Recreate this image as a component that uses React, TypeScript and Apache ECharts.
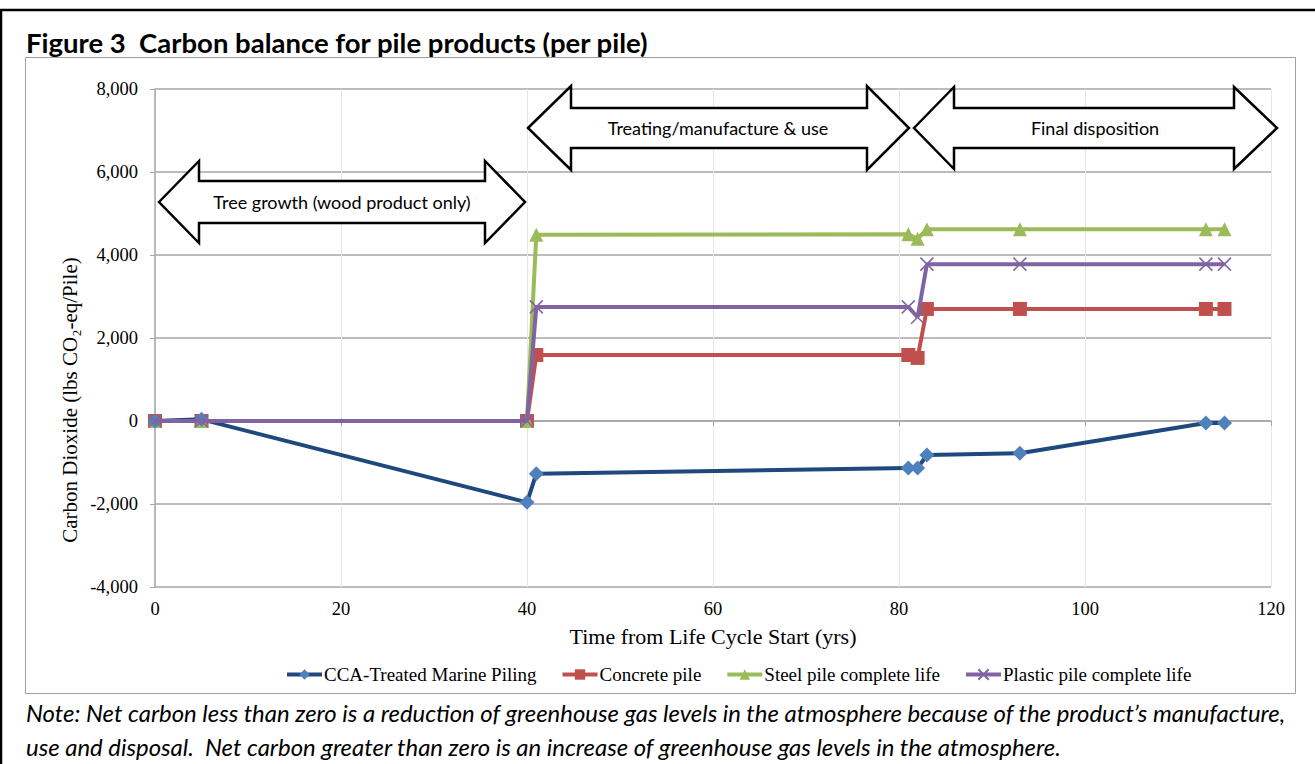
import React, { useEffect, useRef } from "react";
import * as echarts from "echarts";

const years = [0, 5, 40, 41, 81, 82, 83, 93, 113, 115];
const ccaValues = [0, 40, -1960, -1270, -1135, -1135, -820, -775, -50, -50];
const concreteValues = [0, 0, 0, 1590, 1590, 1520, 2700, 2700, 2700, 2700];
const steelValues = [0, 0, 0, 4490, 4500, 4390, 4620, 4620, 4620, 4620];
const plasticValues = [0, 0, 0, 2750, 2750, 2500, 3780, 3780, 3780, 3780];

const seriesNames = [
  "CCA-Treated Marine Piling",
  "Concrete pile",
  "Steel pile complete life",
  "Plastic pile complete life",
];
const phaseLabels = [
  "Tree growth (wood product only)",
  "Treating/manufacture & use",
  "Final disposition",
];
const titleText = "Figure 3  Carbon balance for pile products (per pile)";
const yAxisTitle = "Carbon Dioxide (lbs CO\u2082-eq/Pile)";
const xAxisTitle = "Time from Life Cycle Start (yrs)";
const noteLines = [
  "Note: Net carbon less than zero is a reduction of greenhouse gas levels in the atmosphere because of the product\u2019s manufacture,",
  "use and disposal.  Net carbon greater than zero is an increase of greenhouse gas levels in the atmosphere.",
];

const pair = (vals: number[]) => years.map((x, i) => [x, vals[i]]);

function arrowPoints(x1: number, b1: number, b2: number, x2: number, cy: number, headHalf: number, shaftHalf: number) {
  return [
    [x1, cy],
    [b1, cy - headHalf],
    [b1, cy - shaftHalf],
    [b2, cy - shaftHalf],
    [b2, cy - headHalf],
    [x2, cy],
    [b2, cy + headHalf],
    [b2, cy + shaftHalf],
    [b1, cy + shaftHalf],
    [b1, cy + headHalf],
  ];
}

export default function App() {
  const ref = useRef<HTMLDivElement>(null);
  useEffect(() => {
    if (!ref.current) return;
    const chart = echarts.init(ref.current, undefined, { renderer: "svg" });
    const serif = "'Liberation Serif', 'Times New Roman', serif";
    const sans = "Lato, 'Open Sans', sans-serif";
    const arrows = [
      { pts: arrowPoints(159, 199, 485, 525, 202, 41, 21), label: phaseLabels[0], cx: 342, cy: 202 },
      { pts: arrowPoints(528, 571, 867, 909, 128, 42, 20), label: phaseLabels[1], cx: 718, cy: 128 },
      { pts: arrowPoints(914, 954, 1234, 1277, 128, 41, 20), label: phaseLabels[2], cx: 1095, cy: 128 },
    ];
    const graphics: any[] = [
      {
        type: "rect",
        shape: { x: 1, y: 10, width: 1330, height: 800 },
        style: { fill: "none", stroke: "#000", lineWidth: 2.5 },
        silent: true,
        z: 0,
      },
      {
        type: "rect",
        shape: { x: 25.5, y: 57.5, width: 1270, height: 636 },
        style: { fill: "none", stroke: "#a0a0a0", lineWidth: 1 },
        silent: true,
        z: 0,
      },
      {
        type: "text",
        x: 26,
        y: 42,
        style: {
          text: titleText,
          font: "bold 27.5px " + sans,
          fill: "#000",
          textVerticalAlign: "middle",
        },
      },
      {
        type: "text",
        x: 70,
        y: 400,
        rotation: Math.PI / 2,
        style: {
          text: yAxisTitle,
          font: "21px " + serif,
          fill: "#000",
          textAlign: "center",
          textVerticalAlign: "middle",
        },
      },
      ...noteLines.map((t, i) => ({
        type: "text",
        x: 26,
        y: 712 + i * 34.5,
        style: {
          text: t,
          font: "italic 23.9px " + sans,
          fill: "#000",
          textVerticalAlign: "middle",
        },
      })),
    ];
    arrows.forEach((a) => {
      graphics.push({
        type: "polygon",
        shape: { points: a.pts },
        style: { fill: "#fff", stroke: "#000", lineWidth: 2.5, lineJoin: "miter" },
        z: 50,
      });
      graphics.push({
        type: "text",
        x: a.cx,
        y: a.cy,
        style: {
          text: a.label,
          font: "18px " + sans,
          fill: "#000",
          textAlign: "center",
          textVerticalAlign: "middle",
        },
        z: 51,
      });
    });

    const option: any = {
      animation: false,
      backgroundColor: "#fff",
      grid: { left: 155, top: 89, width: 1116, height: 498, containLabel: false },
      xAxis: {
        type: "value",
        min: 0,
        max: 120,
        interval: 20,
        name: xAxisTitle,
        nameLocation: "middle",
        nameGap: 38,
        nameTextStyle: { fontFamily: serif, fontSize: 22, color: "#000" },
        axisLine: { show: true, lineStyle: { color: "#a6a6a6", width: 1.5 } },
        axisTick: { show: true, length: 5, lineStyle: { color: "#a6a6a6" } },
        axisLabel: { fontFamily: serif, fontSize: 18.5, color: "#000", margin: 12 },
        splitLine: { show: true, lineStyle: { color: "#e6e6e6", width: 1 } },
      },
      yAxis: {
        type: "value",
        min: -4000,
        max: 8000,
        interval: 2000,
        axisLine: { show: true, lineStyle: { color: "#a6a6a6", width: 1.5 } },
        axisTick: { show: true, length: 5, lineStyle: { color: "#a6a6a6" } },
        axisLabel: {
          fontFamily: serif,
          fontSize: 18.5,
          color: "#000",
          margin: 17,
          formatter: (v: number) => v.toLocaleString("en-US"),
        },
        splitLine: { show: true, lineStyle: { color: "#a6a6a6", width: 1.5 } },
      },
      legend: {
        bottom: 75,
        left: 280,
        padding: 5,
        itemWidth: 35,
        itemHeight: 13,
        itemGap: 24,
        lineStyle: { width: 4 },
        textStyle: { fontFamily: serif, fontSize: 19, color: "#000", padding: [0, 0, 0, -3] },
        data: seriesNames,
      },
      series: [
        {
          name: seriesNames[0],
          type: "line",
          data: pair(ccaValues),
          symbol: "diamond",
          symbolSize: 15,
          lineStyle: { color: "#1F497D", width: 4 },
          itemStyle: { color: "#4F81BD" },
          z: 5,
        },
        {
          name: seriesNames[1],
          type: "line",
          data: pair(concreteValues),
          symbol: "rect",
          symbolSize: 14,
          lineStyle: { color: "#C0504D", width: 4 },
          itemStyle: { color: "#C0504D" },
          z: 3,
        },
        {
          name: seriesNames[2],
          type: "line",
          data: pair(steelValues),
          symbol: "triangle",
          symbolSize: 14,
          lineStyle: { color: "#9BBB59", width: 4 },
          itemStyle: { color: "#9BBB59" },
          z: 4,
        },
        {
          name: seriesNames[3],
          type: "line",
          data: pair(plasticValues),
          symbol: "path://M0,0L10,10M10,0L0,10",
          symbolSize: 13,
          lineStyle: { color: "#8064A2", width: 4 },
          itemStyle: { color: "#8064A2", borderColor: "#8064A2", borderWidth: 1.5 },
          z: 6,
        },
      ],
      graphic: graphics,
    };
    chart.setOption(option);
    return () => chart.dispose();
  }, []);
  return (
    <div
      ref={ref}
      style={{ position: "absolute", left: 0, top: 0, width: 1315, height: 764 }}
    />
  );
}
